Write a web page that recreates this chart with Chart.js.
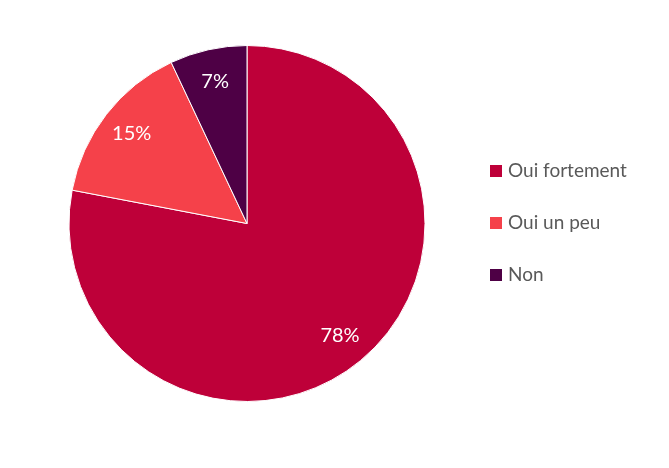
<!DOCTYPE html>
<html>
<head>
<meta charset="utf-8">
<script src="https://cdn.jsdelivr.net/npm/chart.js@4/dist/chart.umd.min.js"></script>
<style>
  html, body { margin: 0; padding: 0; background: #fff; }
  #wrap { width: 669px; height: 468px; }
</style>
</head>
<body>
<div id="wrap"><canvas id="chart"></canvas></div>
<script>
var labels = ['Oui fortement', 'Oui un peu', 'Non'];
var values = [78, 15, 7];
var colors = ['#BE0039', '#F5414A', '#4E0045'];

// percent labels inside the slices
var sliceLabels = {
  id: 'sliceLabels',
  afterDatasetsDraw: function(chart) {
    var ctx = chart.ctx;
    var meta = chart.getDatasetMeta(0);
    ctx.save();
    ctx.fillStyle = '#fff';
    ctx.font = '20px Lato';
    ctx.textAlign = 'center';
    ctx.textBaseline = 'middle';
    meta.data.forEach(function(arc, i) {
      var mid = (arc.startAngle + arc.endAngle) / 2;
      var r = arc.outerRadius * 0.82;
      ctx.fillText(values[i] + '%', arc.x + Math.cos(mid) * r, arc.y + Math.sin(mid) * r);
    });
    ctx.restore();
  }
};

// legend on the right, drawn from the chart data
var sideLegend = {
  id: 'sideLegend',
  afterDraw: function(chart) {
    var ctx = chart.ctx;
    var x = 490, y = 171, step = 52;
    ctx.save();
    ctx.font = '19px Lato';
    ctx.textBaseline = 'middle';
    chart.data.labels.forEach(function(lab, i) {
      ctx.fillStyle = chart.data.datasets[0].backgroundColor[i];
      ctx.fillRect(x, y + i * step - 6, 12, 12);
      ctx.fillStyle = '#595959';
      ctx.fillText(lab, x + 18, y + i * step);
    });
    ctx.restore();
  }
};

new Chart(document.getElementById('chart'), {
  type: 'pie',
  data: {
    labels: labels,
    datasets: [{
      data: values,
      backgroundColor: colors,
      borderColor: '#ffffff',
      borderWidth: 1
    }]
  },
  options: {
    responsive: true,
    maintainAspectRatio: false,
    animation: false,
    layout: { padding: { left: 68, right: 243, top: 45, bottom: 66 } },
    plugins: {
      legend: { display: false },
      tooltip: { enabled: false }
    }
  },
  plugins: [sliceLabels, sideLegend]
});
</script>
</body>
</html>
